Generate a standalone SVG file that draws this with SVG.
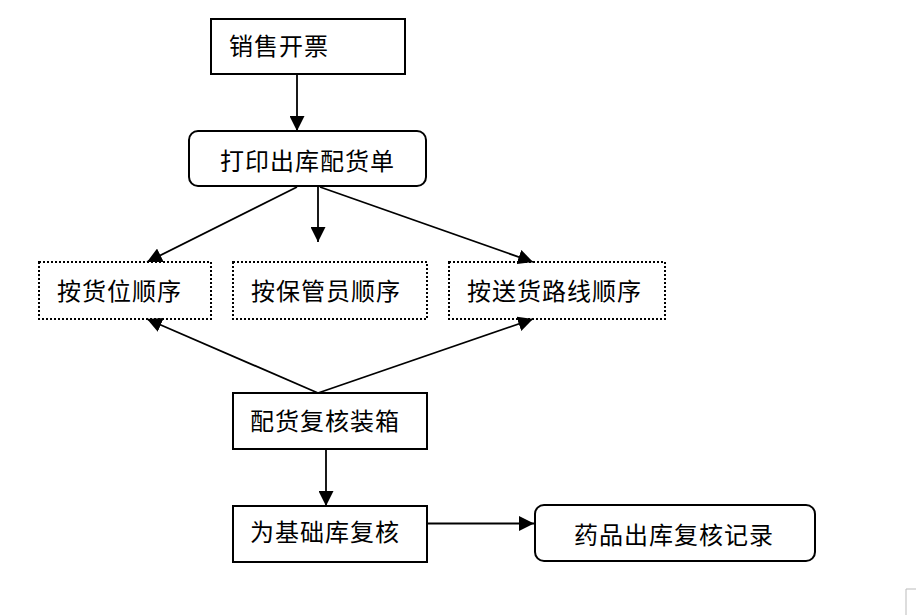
<svg xmlns="http://www.w3.org/2000/svg" width="916" height="615" viewBox="0 0 916 615">
<style>
.box{fill:#fff;stroke:#000;stroke-width:2}
.dot{fill:#fff;stroke:#000;stroke-width:2;stroke-dasharray:2 2}
.lbl{font-family:"Noto Sans CJK SC","Noto Sans",sans-serif;font-size:24px;letter-spacing:1px;fill:#000}
.conn line{stroke:#000;stroke-width:1.8;marker-end:url(#ah)}
</style>
<defs>
<marker id="ah" markerUnits="userSpaceOnUse" markerWidth="15" markerHeight="15" refX="15" refY="7.5" orient="auto" viewBox="0 0 15 15">
<path d="M0,0 L15,7.5 L0,15 z" fill="#000"/>
</marker>
</defs>
<rect width="916" height="615" fill="#fff"/>
<g id="n1"><rect class="box" x="211" y="19" width="194" height="55"/><text class="lbl" x="229" y="55">销售开票</text></g>
<g id="n2"><rect class="box" x="189" y="131" width="237" height="55" rx="9"/><text class="lbl" x="220" y="170">打印出库配货单</text></g>
<g id="n3"><rect class="dot" x="39" y="262" width="172" height="57"/><text class="lbl" x="57" y="299.5">按货位顺序</text></g>
<g id="n4"><rect class="dot" x="233" y="262" width="194" height="57"/><text class="lbl" x="251" y="299.5">按保管员顺序</text></g>
<g id="n5"><rect class="dot" x="449" y="262" width="216" height="57"/><text class="lbl" x="467" y="299.5">按送货路线顺序</text></g>
<g id="n6"><rect class="box" x="233" y="393" width="194" height="56"/><text class="lbl" x="250" y="429.5">配货复核装箱</text></g>
<g id="n7"><rect class="box" x="233" y="506" width="194" height="56"/><text class="lbl" x="250" y="541">为基础库复核</text></g>
<g id="n8"><rect class="box" x="535" y="505" width="280" height="56" rx="9"/><text class="lbl" x="574" y="543.5">药品出库复核记录</text></g>
<g id="connectors" class="conn">
<line x1="297" y1="75" x2="297" y2="131"/>
<line x1="297" y1="187" x2="147" y2="262"/>
<line x1="318" y1="187" x2="318" y2="242"/>
<line x1="320" y1="187" x2="533" y2="262"/>
<line x1="318" y1="393" x2="147" y2="319"/>
<line x1="318" y1="393" x2="533" y2="319"/>
<line x1="326" y1="450" x2="326" y2="506"/>
<line x1="428" y1="523.5" x2="534" y2="523.5"/>
</g>
<polyline points="906,615 906,589 916,589" fill="none" stroke="#bbb" stroke-width="1"/>
</svg>
